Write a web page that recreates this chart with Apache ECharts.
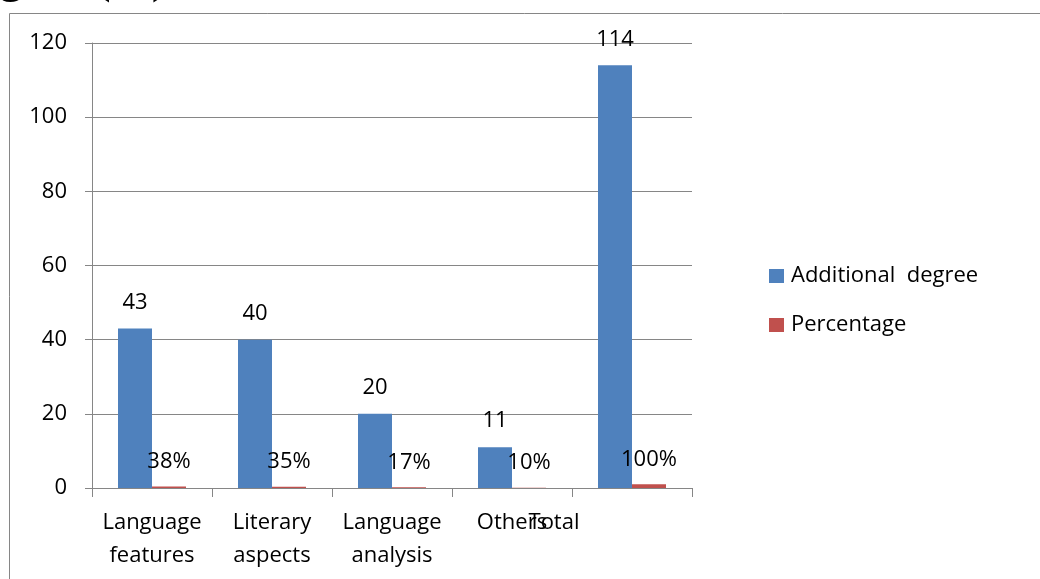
<!DOCTYPE html>
<html>
<head>
<meta charset="utf-8">
<title>Additional degree and percentage by category</title>
<script src="https://cdn.jsdelivr.net/npm/echarts@6/dist/echarts.min.js"></script>
<style>
  html, body { margin: 0; padding: 0; background: #ffffff; }
  #chart { width: 1040px; height: 579px; }
</style>
</head>
<body>
<div id="chart"></div>
<script>
// Categories on the horizontal axis (line breaks as shown under the ticks)
const categories = ['Language\nfeatures', 'Literary\naspects', 'Language\nanalysis', 'Others', 'Total'];

// Series values
const additionalDegree = [43, 40, 20, 11, 114];
const percentage = [0.38, 0.35, 0.17, 0.10, 1.00];

// Series names shown in the legend
const seriesNames = ['Additional  degree', 'Percentage'];

// Value axis range and tick step
const yMin = 0;
const yMax = 120;
const yStep = 20;

const FONT = 'Open Sans';
const GRID_GRAY = '#868686';

const chart = echarts.init(document.getElementById('chart'), null, { renderer: 'canvas' });

chart.setOption({
  animation: false,
  backgroundColor: '#ffffff',
  textStyle: { fontFamily: FONT, color: '#000000' },
  graphic: [
    // caption running off the top edge of the page
    {
      type: 'text',
      left: -39,
      top: -40,
      style: {
        text: 'Figure (11)',
        fontFamily: 'Liberation Serif',
        fontWeight: 'bold',
        fontSize: 44,
        fill: '#000000'
      }
    },
    // outer frame around the chart
    {
      type: 'polyline',
      shape: { points: [[9.5, 579], [9.5, 13.5], [1040, 13.5]] },
      style: { stroke: GRID_GRAY, lineWidth: 1, fill: null }
    }
  ],
  legend: {
    orient: 'vertical',
    left: 769,
    top: 265,
    padding: 0,
    itemWidth: 15,
    itemHeight: 14,
    itemGap: 27,
    icon: 'rect',
    data: seriesNames,
    textStyle: {
      fontFamily: FONT,
      fontSize: 22,
      color: '#000000',
      padding: [0, 0, 0, 2]
    }
  },
  grid: {
    left: 92,
    right: 348,
    top: 43,
    bottom: 91,
    containLabel: false
  },
  xAxis: {
    type: 'category',
    data: categories,
    boundaryGap: true,
    axisLine: { show: true, lineStyle: { color: GRID_GRAY, width: 1 } },
    axisTick: { show: true, length: 9, alignWithLabel: false, lineStyle: { color: GRID_GRAY } },
    axisLabel: {
      interval: 0,
      margin: 18,
      fontFamily: FONT,
      fontSize: 22,
      lineHeight: 33,
      color: '#000000',
      formatter: function (value) {
        return value === 'Total' ? '{shifted|' + value + '}' : value;
      },
      rich: {
        shifted: {
          fontFamily: FONT,
          fontSize: 22,
          lineHeight: 33,
          color: '#000000',
          padding: [0, 156, 0, 0]
        }
      }
    },
    splitLine: { show: false }
  },
  yAxis: {
    type: 'value',
    min: yMin,
    max: yMax,
    interval: yStep,
    axisLine: { show: true, lineStyle: { color: GRID_GRAY, width: 1 } },
    axisTick: { show: true, length: 7, lineStyle: { color: GRID_GRAY } },
    axisLabel: {
      margin: 25,
      fontFamily: FONT,
      fontSize: 22,
      color: '#000000'
    },
    splitLine: { show: true, lineStyle: { color: GRID_GRAY, width: 1 } }
  },
  series: [
    {
      name: seriesNames[0],
      type: 'bar',
      data: additionalDegree,
      barWidth: 34,
      barGap: '0%',
      itemStyle: { color: '#4F81BD' },
      label: {
        show: true,
        position: 'top',
        distance: 15,
        fontFamily: FONT,
        fontSize: 22,
        color: '#000000'
      }
    },
    {
      name: seriesNames[1],
      type: 'bar',
      data: percentage,
      barWidth: 34,
      barGap: '0%',
      itemStyle: { color: '#C0504D' },
      label: {
        show: true,
        position: 'top',
        distance: 14,
        fontFamily: FONT,
        fontSize: 22,
        color: '#000000',
        formatter: function (p) { return Math.round(p.value * 100) + '%'; }
      }
    }
  ]
});
</script>
</body>
</html>
